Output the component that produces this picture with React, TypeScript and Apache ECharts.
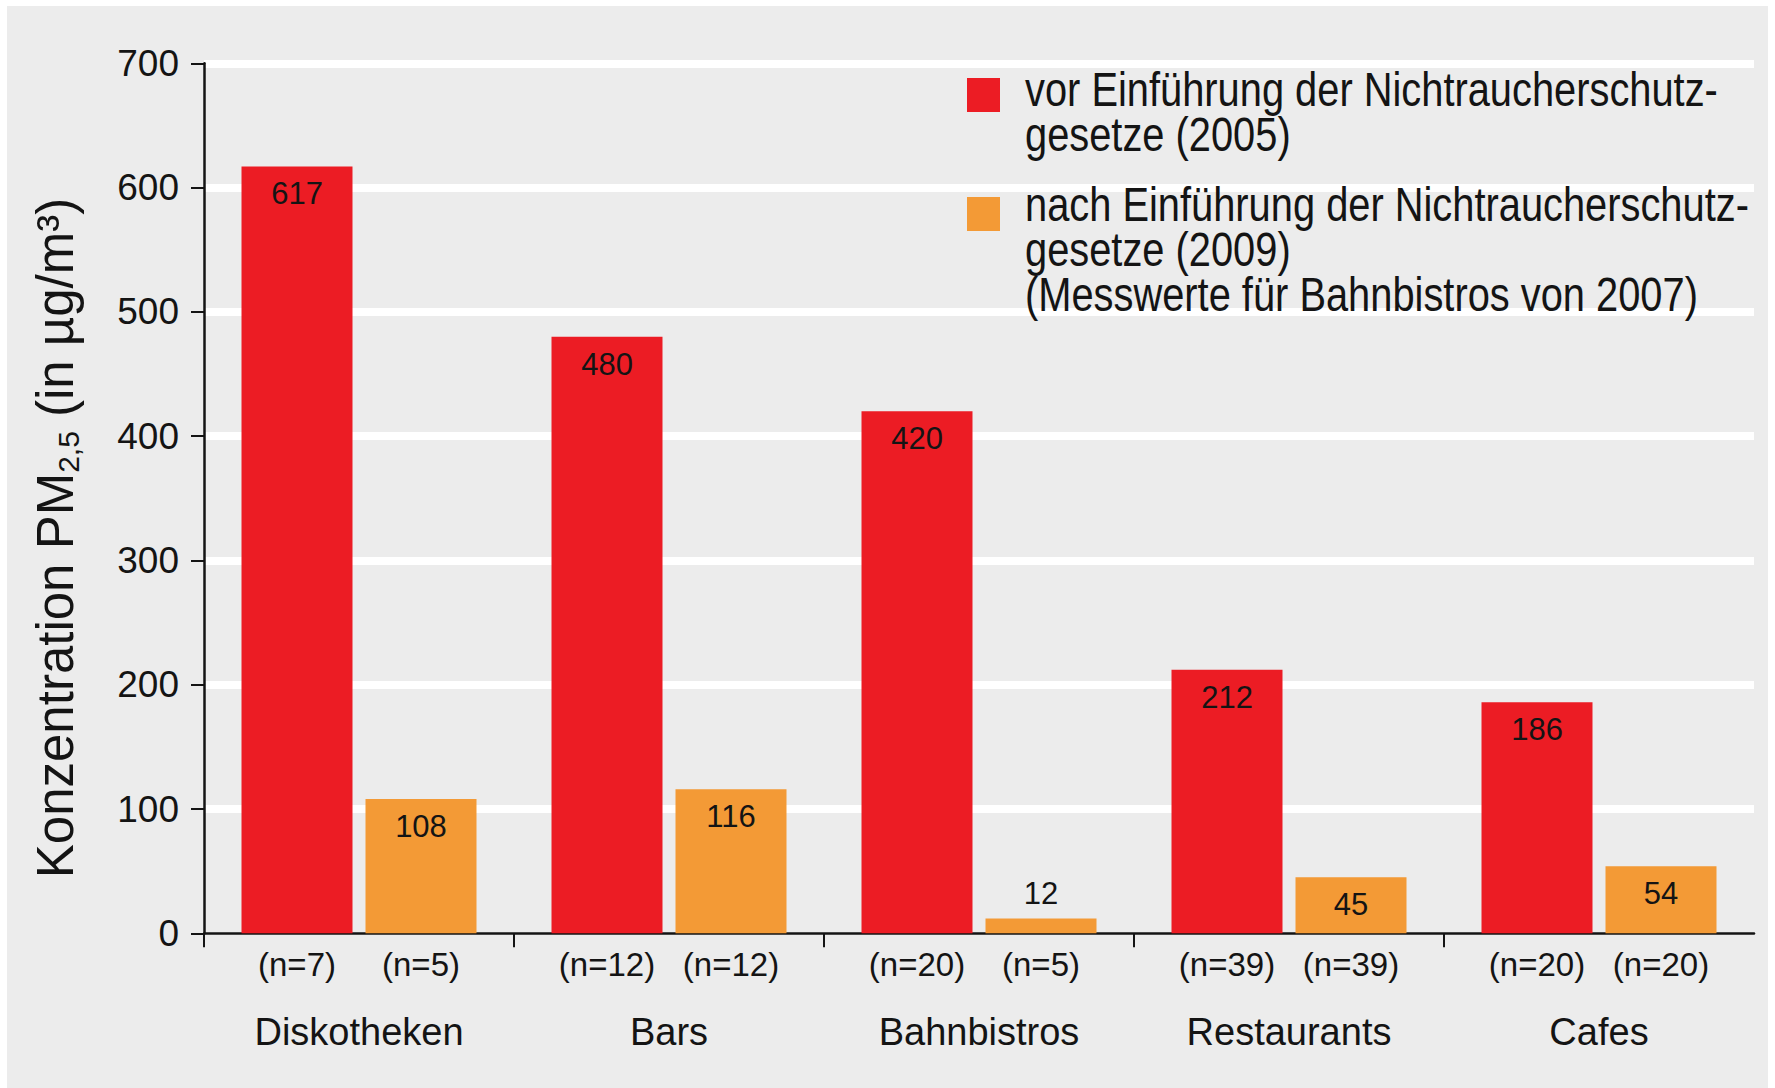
import React, { useEffect, useRef } from 'react';
import * as echarts from 'echarts';

// ---- data ----
const categories = ['Diskotheken', 'Bars', 'Bahnbistros', 'Restaurants', 'Cafes'];
const before2005 = [617, 480, 420, 212, 186];
const after2009 = [108, 116, 12, 45, 54];
const nBefore = [7, 12, 20, 39, 20];
const nAfter = [5, 12, 5, 39, 20];
const yMin = 0;
const yMax = 700;
const yStep = 100;
const seriesNames = [
  'vor Einführung der Nichtraucherschutz-\ngesetze (2005)',
  'nach Einführung der Nichtraucherschutz-\ngesetze (2009)\n(Messwerte für Bahnbistros von 2007)',
];
const yAxisTitle = '{a|Konzentration PM}{s|2,5}{a| (in µg/m³)}';

// ---- styles ----
const RED = '#ec1c24';
const ORANGE = '#f39a36';
const INK = '#141414';
const FONT = "'Liberation Sans', Arial, sans-serif";

export default function App() {
  const ref = useRef<HTMLDivElement>(null);

  useEffect(() => {
    const chart = echarts.init(ref.current as HTMLDivElement, null, { renderer: 'svg' });
    const tickSlots = [...categories, ''];
    const legendText = (text: string, y: number) => ({
      type: 'text',
      x: 1025,
      y,
      z: 50,
      scaleX: 0.83,
      style: {
        text,
        fontSize: 48,
        fontFamily: FONT,
        lineHeight: 45,
        align: 'left',
        verticalAlign: 'top',
        fill: INK,
      },
    });
    const option: any = {
      animation: false,
      backgroundColor: '#ffffff',
      grid: {
        left: 204,
        right: 21,
        top: 63.3,
        bottom: 154.7,
        containLabel: false,
        outerBoundsMode: 'none',
      },
      graphic: [
        {
          type: 'rect',
          z: -100,
          silent: true,
          shape: { x: 7, y: 6, width: 1761, height: 1082 },
          style: { fill: '#ececec' },
        },
        {
          type: 'text',
          x: 55,
          y: 538,
          rotation: Math.PI / 2,
          style: {
            text: yAxisTitle,
            align: 'center',
            verticalAlign: 'middle',
            fill: INK,
            rich: {
              a: { fontSize: 51, fontFamily: FONT, lineHeight: 56, fill: INK },
              s: {
                fontSize: 30,
                fontFamily: FONT,
                lineHeight: 24,
                padding: [32, 0, 0, 0],
                verticalAlign: 'bottom',
                fill: INK,
              },
            },
          },
        },
        {
          type: 'rect',
          z: 50,
          shape: { x: 967, y: 78, width: 33, height: 34 },
          style: { fill: RED },
        },
        legendText(seriesNames[0], 66.5),
        {
          type: 'rect',
          z: 50,
          shape: { x: 967, y: 197, width: 33, height: 34 },
          style: { fill: ORANGE },
        },
        legendText(seriesNames[1], 181.5),
      ],
      xAxis: [
        {
          type: 'category',
          data: categories,
          axisLine: { show: true, onZero: false, lineStyle: { color: INK, width: 2.5 } },
          axisTick: { show: false },
          splitLine: { show: false },
          axisLabel: {
            interval: 0,
            margin: 6,
            formatter: (v: string, i: number) =>
              `{n|(n=${nBefore[i]})}{g|}{n|(n=${nAfter[i]})}\n{c|${v}}`,
            rich: {
              n: { width: 111, align: 'center', fontSize: 33, fontFamily: FONT, lineHeight: 50, color: INK },
              g: { width: 13, align: 'center', lineHeight: 50 },
              c: { align: 'center', fontSize: 38, fontFamily: FONT, lineHeight: 86, color: INK },
            },
          },
        },
        {
          type: 'category',
          data: tickSlots,
          boundaryGap: false,
          position: 'bottom',
          axisLine: { show: false },
          axisLabel: { show: false },
          splitLine: { show: false },
          axisTick: {
            show: true,
            length: 14,
            interval: (i: number) => i < categories.length,
            lineStyle: { color: INK, width: 2 },
          },
        },
      ],
      yAxis: {
        type: 'value',
        min: yMin,
        max: yMax,
        interval: yStep,
        axisLine: { show: true, lineStyle: { color: INK, width: 2.5 } },
        axisTick: { show: true, length: 13, lineStyle: { color: INK, width: 2 } },
        axisLabel: { fontSize: 37, fontFamily: FONT, color: INK, margin: 25 },
        splitLine: { show: true, showMinLine: false, lineStyle: { color: '#ffffff', width: 8 } },
      },
      series: [
        {
          name: seriesNames[0],
          type: 'bar',
          xAxisIndex: 0,
          data: before2005,
          barWidth: 111,
          barGap: '11.7%',
          itemStyle: { color: RED },
          label: {
            show: true,
            position: 'insideTop',
            distance: 12,
            fontSize: 31,
            fontFamily: FONT,
            color: INK,
          },
        },
        {
          name: seriesNames[1],
          type: 'bar',
          xAxisIndex: 0,
          data: after2009.map((v) => (v < 30 ? { value: v, label: { position: 'top', distance: 9 } } : v)),
          barWidth: 111,
          barGap: '11.7%',
          itemStyle: { color: ORANGE },
          label: {
            show: true,
            position: 'insideTop',
            distance: 12,
            fontSize: 31,
            fontFamily: FONT,
            color: INK,
          },
        },
      ],
    };
    chart.setOption(option);
    return () => {
      chart.dispose();
    };
  }, []);

  return (
    <div
      ref={ref}
      style={{ position: 'absolute', left: 0, top: 0, width: 1775, height: 1088, background: '#ffffff' }}
    />
  );
}
